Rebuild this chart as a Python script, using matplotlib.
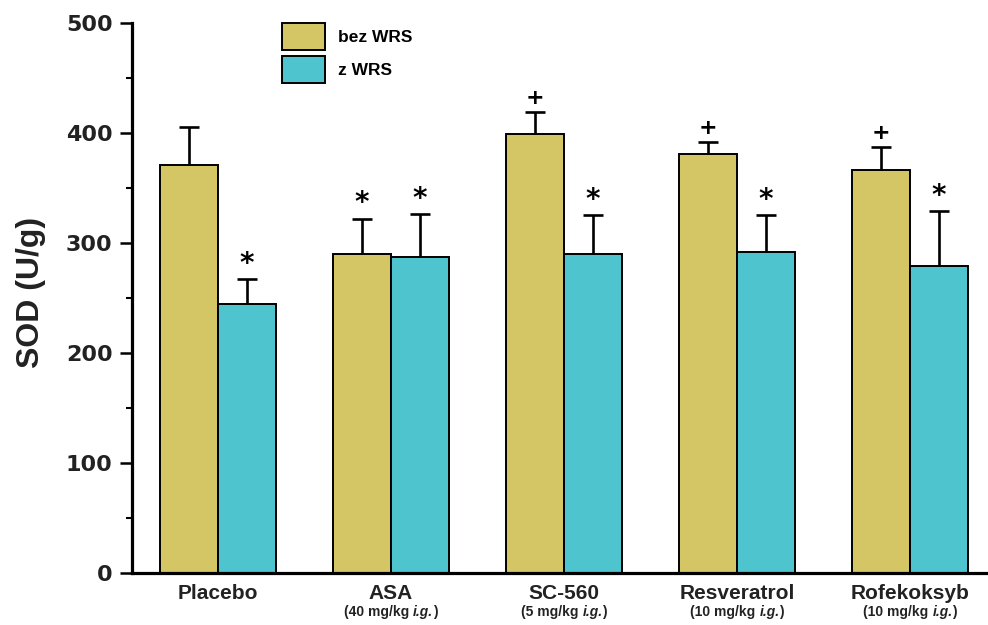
import matplotlib
matplotlib.use("Agg")
import matplotlib.pyplot as plt
from matplotlib.patches import Patch
from matplotlib.offsetbox import TextArea, HPacker, AnnotationBbox
import numpy as np

# ---------------- dane ----------------
groups = ["Placebo", "ASA", "SC-560", "Resveratrol", "Rofekoksyb"]
doses = ["", "(40 mg/kg ", "(5 mg/kg ", "(10 mg/kg ", "(10 mg/kg "]

sod_bez = [371, 290, 399, 381, 366]      # bez WRS
err_bez = [34, 32, 20, 11, 21]
sod_z = [245, 287, 290, 292, 279]        # z WRS
err_z = [22, 39, 35, 33, 50]

mark_bez = ["", "*", "+", "+", "+"]
mark_z = ["*", "*", "*", "*", "*"]

# ---------------- styl ----------------
c_bez = "#d4c665"
c_z = "#4ec4cf"
txt = "#222222"
plt.rcParams["font.family"] = ["Liberation Sans", "DejaVu Sans"]

fig = plt.figure(figsize=(9.88, 6.25), dpi=100)
ax = fig.add_axes([132 / 988, 52 / 625, 856 / 988, 550 / 625])

x = np.arange(len(groups))
w = 0.335

ax.bar(x - w / 2, sod_bez, w, color=c_bez, edgecolor="black", linewidth=1.4, zorder=2)
ax.bar(x + w / 2, sod_z, w, color=c_z, edgecolor="black", linewidth=1.4, zorder=2)

# tylko górne słupki błędów (dolny "kapelusz" ukryty)
for xs, ys, es in [(x - w / 2, sod_bez, err_bez), (x + w / 2, sod_z, err_z)]:
    _, caps, _ = ax.errorbar(xs, ys, yerr=[np.zeros(len(x)), es], fmt="none",
                             ecolor="black", elinewidth=1.9, capsize=7.5,
                             capthick=1.9, zorder=3)
    caps[0].set_visible(False)

# oznaczenia istotności
for i in range(len(x)):
    for xi, top, m in [(x[i] - w / 2, sod_bez[i] + err_bez[i], mark_bez[i]),
                       (x[i] + w / 2, sod_z[i] + err_z[i], mark_z[i])]:
        if not m:
            continue
        fs, off = (20, 1) if m == "*" else (16, 3)
        ax.annotate(m, (xi, top), xytext=(0, off), textcoords="offset points",
                    ha="center", va="bottom", fontsize=fs, fontweight="bold",
                    family="DejaVu Sans")

# osie
ax.set_xlim(-0.497, 4.45)
ax.set_ylim(0, 500)
ax.spines[["top", "right"]].set_visible(False)
ax.spines["left"].set_linewidth(2.3)
ax.spines["bottom"].set_linewidth(2.3)

ax.set_yticks([0, 100, 200, 300, 400, 500])
ax.set_yticks(np.arange(50, 500, 100), minor=True)
ax.tick_params(axis="y", which="major", length=9, width=1.8, pad=5)
ax.tick_params(axis="y", which="minor", length=4, width=1.5)
for lab in ax.get_yticklabels():
    lab.set_fontfamily("DejaVu Sans")
    lab.set_fontweight("bold")
    lab.set_fontsize(16)
    lab.set_color(txt)

ax.set_xticks(x)
ax.set_xticklabels(groups, fontsize=15, fontweight="bold", color=txt)
ax.tick_params(axis="x", length=0, pad=8)

# dawki pod nazwami, "i.g." kursywą
bold = {"fontsize": 10, "fontweight": "bold", "color": txt}
bold_it = {"fontsize": 10, "fontweight": "bold", "fontstyle": "italic", "color": txt}
for i, d in enumerate(doses):
    if not d:
        continue
    box = HPacker(children=[TextArea(d, textprops=bold),
                            TextArea("i.g.", textprops=bold_it),
                            TextArea(")", textprops=bold)],
                  align="baseline", pad=0, sep=0)
    ab = AnnotationBbox(box, (x[i], -0.071), xycoords=ax.get_xaxis_transform(),
                        frameon=False, box_alignment=(0.5, 0.5),
                        annotation_clip=False)
    ax.add_artist(ab)

ax.set_ylabel("SOD (U/g)", fontsize=23, fontweight="bold", color=txt)
ax.yaxis.set_label_coords(-0.10, 0.51)

# legenda
handles = [Patch(facecolor=c_bez, edgecolor="black", linewidth=1.4, label="bez WRS"),
           Patch(facecolor=c_z, edgecolor="black", linewidth=1.4, label="z WRS")]
ax.legend(handles=handles, loc="upper left", bbox_to_anchor=(0.175, 1.0),
          frameon=False, prop={"family": "Liberation Sans", "weight": "bold", "size": 12.5},
          handlelength=2.5, handleheight=2.0, labelspacing=0.35,
          handletextpad=0.75, borderpad=0, borderaxespad=0)

fig.savefig("out.png", dpi=100, facecolor="white")
